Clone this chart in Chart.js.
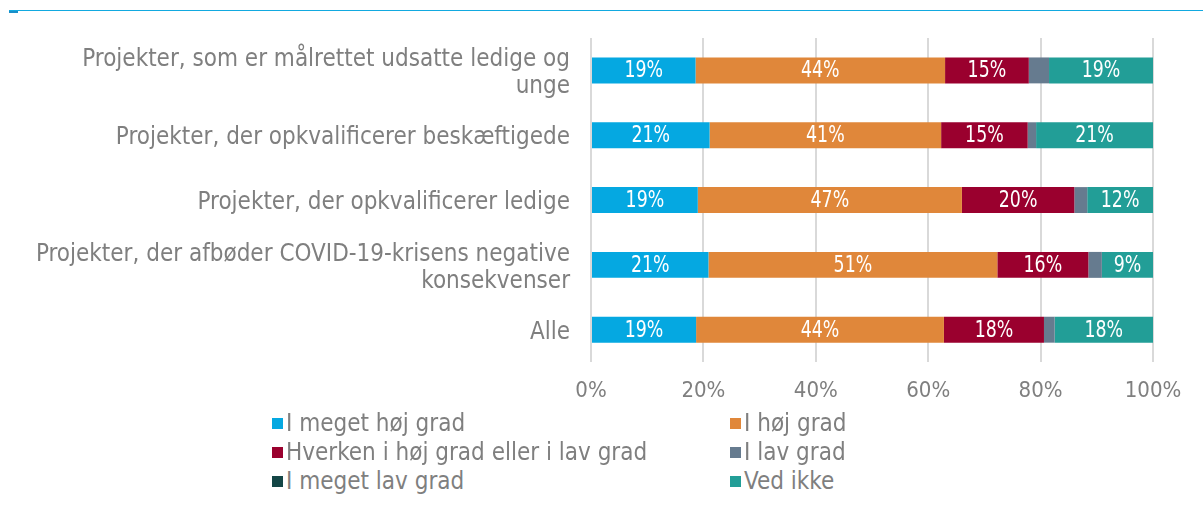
<!DOCTYPE html>
<html>
<head>
<meta charset="utf-8">
<script src="https://cdn.jsdelivr.net/npm/chart.js@4.4.0/dist/chart.umd.min.js"></script>
<style>
  body { margin: 0; background: #fff; width: 1203px; height: 526px; overflow: hidden; position: relative; font-family: "DejaVu Sans Condensed", "DejaVu Sans", sans-serif; }
  #topline { position: absolute; left: 9px; right: 0; top: 10px; height: 1px; background: #12a9e0; }
  #topmark { position: absolute; left: 9px; width: 9px; top: 11px; height: 2px; background: #1a8fc9; }
  #wrap { position: absolute; left: 0; top: 0; width: 1203px; height: 410px; }
  #legend { position: absolute; left: 272px; top: 410px; width: 700px; }
  .item { position: absolute; display: flex; align-items: center; height: 26px; font-size: 24px; color: #7f7f7f; white-space: nowrap; }
  .box { width: 11px; height: 11px; margin-right: 3px; }
</style>
</head>
<body>
<div id="topline"></div>
<div id="topmark"></div>
<div id="wrap"><canvas id="chart"></canvas></div>
<div id="legend"></div>
<script>
// categories (top to bottom)
const categories = [
    ['Projekter, som er målrettet udsatte ledige og', 'unge'],
    'Projekter, der opkvalificerer beskæftigede',
    'Projekter, der opkvalificerer ledige',
    ['Projekter, der afbøder COVID-19-krisens negative', 'konsekvenser'],
    'Alle'
];

// series names and values (percent)
const seriesNames = ['I meget høj grad', 'I høj grad', 'Hverken i høj grad eller i lav grad', 'I lav grad', 'I meget lav grad', 'Ved ikke'];
const meget_hoej = [18.6, 21.1, 19.0, 20.9, 18.7];
const hoej = [44.4, 41.2, 47.0, 51.4, 44.1];
const hverken = [14.9, 15.4, 20.0, 16.2, 17.8];
const lav = [3.6, 1.5, 2.3, 2.4, 1.9];
const meget_lav = [0, 0, 0, 0, 0];
const ved_ikke = [18.5, 20.8, 11.7, 9.1, 17.5];

const xTicks = ['0%', '20%', '40%', '60%', '80%', '100%'];

const seriesData = [meget_hoej, hoej, hverken, lav, meget_lav, ved_ikke];
const colors = ['#05a8e1', '#e0873a', '#9a002e', '#667b8f', '#134646', '#229e97'];
const textGray = '#7f7f7f';
const fontFamily = '"DejaVu Sans Condensed", "DejaVu Sans", sans-serif';

// labels inside the segments (squeezed a bit, the original font is narrow)
const barLabels = {
    id: 'barLabels',
    afterDatasetsDraw(chart) {
        const ctx = chart.ctx;
        ctx.save();
        ctx.fillStyle = '#ffffff';
        ctx.font = '23px ' + fontFamily;
        ctx.textAlign = 'center';
        ctx.textBaseline = 'middle';
        chart.data.datasets.forEach((ds, i) => {
            const meta = chart.getDatasetMeta(i);
            meta.data.forEach((bar, j) => {
                const v = ds.data[j];
                if (v < 5) return;
                const x = (bar.x + bar.base) / 2;
                ctx.save();
                ctx.translate(x, bar.y + 1);
                ctx.scale(0.84, 1);
                ctx.fillText(Math.round(v) + '%', 0, 0);
                ctx.restore();
            });
        });
        ctx.restore();
    }
};

new Chart(document.getElementById('chart'), {
    type: 'bar',
    data: {
        labels: categories,
        datasets: seriesData.map((d, i) => ({
            label: seriesNames[i],
            data: d,
            backgroundColor: colors[i],
            borderWidth: 0,
            barPercentage: 0.4,
            categoryPercentage: 1.0
        }))
    },
    options: {
        indexAxis: 'y',
        responsive: true,
        maintainAspectRatio: false,
        animation: false,
        layout: { padding: { top: 38, right: 50, left: 0, bottom: 0 } },
        plugins: {
            legend: { display: false },
            tooltip: { enabled: false }
        },
        scales: {
            x: {
                stacked: true,
                min: 0,
                max: 100,
                afterFit(scale) {
                    scale.height = 47;
                    scale.paddingLeft = 0;
                    scale.paddingRight = 0;
                },
                grid: { color: '#d9d9d9', lineWidth: 2, drawTicks: false },
                border: { display: false },
                ticks: {
                    stepSize: 20,
                    padding: 16,
                    color: textGray,
                    font: { family: fontFamily, size: 22 },
                    callback: (v, i) => xTicks[i]
                }
            },
            y: {
                stacked: true,
                afterFit(scale) { scale.width = 591; },
                grid: { display: false, drawTicks: false },
                border: { display: false },
                ticks: {
                    padding: 21,
                    labelOffset: 3,
                    color: textGray,
                    font: { family: fontFamily, size: 24, lineHeight: 1.12 }
                }
            }
        }
    },
    plugins: [barLabels]
});

// legend in two columns
const legend = document.getElementById('legend');
seriesNames.forEach((name, i) => {
    const el = document.createElement('div');
    el.className = 'item';
    el.style.left = (i % 2 === 0 ? 0 : 458) + 'px';
    el.style.top = (Math.floor(i / 2) * 29) + 'px';
    el.innerHTML = '<span class="box" style="background:' + colors[i] + '"></span>' + name;
    legend.appendChild(el);
});
</script>
</body>
</html>
